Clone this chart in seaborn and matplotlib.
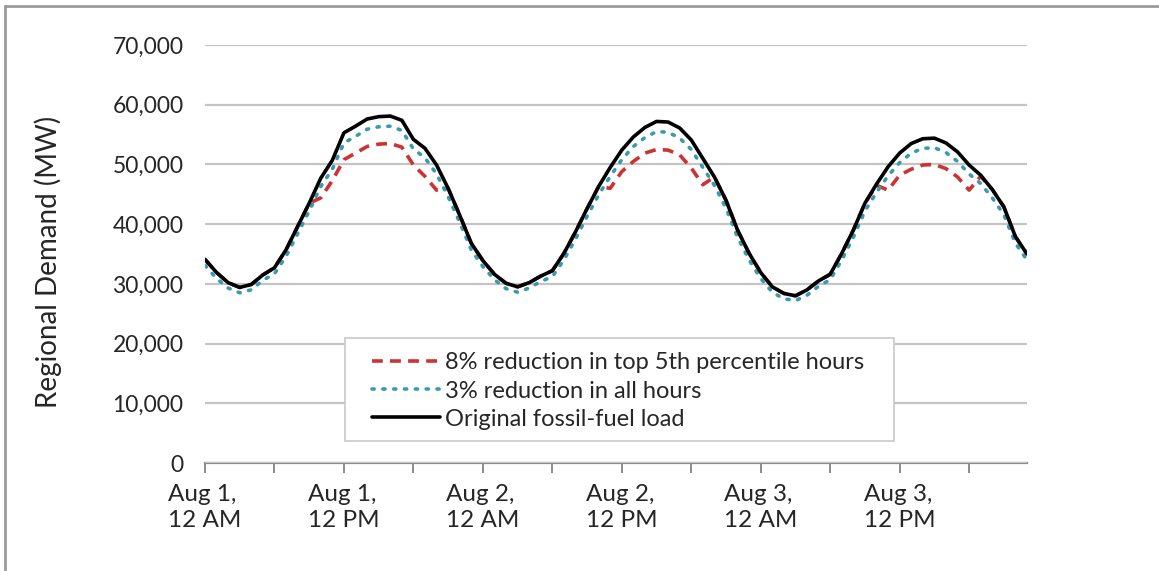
import matplotlib
matplotlib.use("Agg")
import matplotlib.pyplot as plt
from matplotlib.patches import Rectangle
import pandas as pd
import seaborn as sns

# hourly values, Aug 1 12 AM .. Aug 3 11 PM (MW)
hours = list(range(72))

original_load = [
    34100, 31900, 30200, 29400, 29900, 31500, 32700, 35700, 39600, 43500, 47700, 50700,
    55300, 56400, 57600, 58000, 58100, 57400, 54200, 52700, 49900, 46000, 41500, 36800,
    33900, 31600, 30100, 29500, 30200, 31300, 32200, 35100, 38700, 42600, 46300, 49500,
    52400, 54600, 56200, 57200, 57100, 56100, 54100, 51000, 47900, 44000, 39000, 35100,
    31900, 29500, 28400, 28000, 29000, 30500, 31600, 35100, 39000, 43500, 46700, 49600,
    51900, 53500, 54300, 54400, 53600, 52100, 49900, 48200, 45800, 42900, 37900, 35000,
]

all_hours_cut = [
    33100, 30900, 29300, 28500, 29000, 30600, 31700, 34600, 38400, 42200, 46300, 49200,
    53600, 54700, 55900, 56300, 56400, 55700, 52600, 51100, 48400, 44600, 40300, 35700,
    32900, 30700, 29200, 28600, 29300, 30400, 31200, 34000, 37500, 41300, 44900, 48000,
    50800, 53000, 54500, 55500, 55400, 54400, 52500, 49500, 46500, 42700, 37800, 34000,
    30900, 28600, 27500, 27200, 28100, 29600, 30700, 34000, 37800, 42200, 45300, 48100,
    50300, 51900, 52700, 52800, 52000, 50500, 48400, 46800, 44400, 41600, 36800, 34000,
]

peak_hours_cut = [
    34100, 31900, 30200, 29400, 29900, 31500, 32700, 35700, 39600, 43500, 44400, 47300,
    50800, 51900, 53000, 53400, 53500, 52900, 49900, 48000, 45700, 46000, 41500, 36800,
    33900, 31600, 30100, 29500, 30200, 31300, 32200, 35100, 38700, 42600, 46300, 46000,
    48800, 50500, 51900, 52500, 52400, 51600, 49400, 46600, 47900, 44000, 39000, 35100,
    31900, 29500, 28400, 28000, 29000, 30500, 31600, 35100, 39000, 43500, 46500, 45700,
    48200, 49200, 49900, 50000, 49300, 47900, 45700, 48000, 45800, 42900, 37900, 35000,
]

series_names = ["8% reduction in top 5th percentile hours",
                "3% reduction in all hours",
                "Original fossil-fuel load"]

tick_hours = [0, 12, 24, 36, 48, 60]
tick_labels = ["Aug 1,\n12 AM", "Aug 1,\n12 PM", "Aug 2,\n12 AM",
               "Aug 2,\n12 PM", "Aug 3,\n12 AM", "Aug 3,\n12 PM"]

df = pd.DataFrame({"hour": hours,
                   series_names[0]: peak_hours_cut,
                   series_names[1]: all_hours_cut,
                   series_names[2]: original_load})
long = df.melt(id_vars="hour", var_name="series", value_name="MW")

sns.set_style("white")
plt.rcParams["font.family"] = ["Lato", "DejaVu Sans"]

fig = plt.figure(figsize=(11.59, 5.71), dpi=100)
ax = fig.add_axes([205 / 1159, 108 / 571, 822 / 1159, 418 / 571])

palette = {series_names[0]: "#cc3333",
           series_names[1]: "#3a9bb0",
           series_names[2]: "#000000"}
styles = {series_names[0]: dict(linestyle=(0, (3, 2)), linewidth=2.6, dash_capstyle="butt"),
          series_names[1]: dict(linestyle=(0, (0.6, 2.4)), linewidth=2.6, dash_capstyle="round"),
          series_names[2]: dict(linestyle="-", linewidth=2.6, dash_capstyle="butt")}

sns.lineplot(data=long, x="hour", y="MW", hue="series", palette=palette,
             hue_order=series_names, ax=ax, legend=False)
for name, line in zip(series_names, ax.get_lines()):
    line.set_linestyle(styles[name]["linestyle"])
    line.set_linewidth(styles[name]["linewidth"])
    line.set_dash_capstyle(styles[name]["dash_capstyle"])
ax.get_lines()[2].set_zorder(4)

ax.set_xlim(0, 71)
ax.set_ylim(0, 70000)
ax.set_yticks(range(0, 70001, 10000))
ax.set_yticklabels([f"{v:,}" for v in range(0, 70001, 10000)])
ax.yaxis.grid(True, color="#c4c4c4", linewidth=1.6)
ax.set_axisbelow(True)
for s in ["left", "right", "top"]:
    ax.spines[s].set_visible(False)
ax.spines["bottom"].set_color("#8c8c8c")
ax.spines["bottom"].set_linewidth(1.6)
ax.spines["bottom"].set_zorder(0.5)

ax.set_xticks(tick_hours)
ax.set_xticklabels(tick_labels, ha="center", multialignment="left", linespacing=1.3)
ax.set_xticks(range(6, 72, 12), minor=True)
ax.tick_params(axis="x", which="both", bottom=True, direction="out", length=7,
               width=1.4, color="#8c8c8c", labelsize=17.5, pad=8)
ax.tick_params(axis="y", left=False, labelsize=16.5, pad=12)
ax.set_xlabel("")
ax.set_ylabel("Regional Demand (MW)", fontsize=20)
ax.yaxis.set_label_coords(-143 / 822, (463 - 262) / 418)

# legend box drawn separately so it can have wide side padding
ax.add_patch(Rectangle(((345 - 205) / 822, (463 - 441) / 418),
                       549 / 822, 103 / 418, transform=ax.transAxes,
                       facecolor="white", edgecolor="#c8c8c8", linewidth=1.2,
                       zorder=5))
handles = [plt.Line2D([], [], color=palette[n], **styles[n]) for n in series_names]
leg = ax.legend(handles, series_names, loc="center left",
                bbox_to_anchor=((372 - 205) / 822, (463 - 391) / 418),
                borderaxespad=0, borderpad=0, frameon=False,
                fontsize=17, handlelength=2.9, handletextpad=0.2,
                labelspacing=0.3)
leg.set_zorder(6)

# outer frame of the original exhibit (top and left edge)
fig.add_artist(plt.Line2D([5 / 1159, 1.0], [1 - 6 / 571, 1 - 6 / 571],
                          transform=fig.transFigure, color="#9a9a9a", linewidth=2))
fig.add_artist(plt.Line2D([5 / 1159, 5 / 1159], [0, 1 - 6 / 571],
                          transform=fig.transFigure, color="#9a9a9a", linewidth=2))

fig.savefig("out.png", dpi=100)
